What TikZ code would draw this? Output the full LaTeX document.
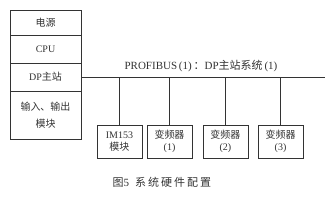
\documentclass[tikz,border=0pt]{standalone}
\usepackage{fontspec}
\setmainfont{Liberation Serif}
\newfontfamily\cjk{Noto Sans CJK SC}
\definecolor{inkgray}{HTML}{333333}
\tikzset{
  cell/.style={draw=inkgray,inner sep=0pt,minimum width=71pt,text=inkgray,font=\fontsize{10}{12}\selectfont},
  slave/.style={draw=inkgray,inner sep=0pt,minimum width=45pt,minimum height=33pt,align=center,text=inkgray,font=\fontsize{10}{12.5}\selectfont}
}
\begin{document}
\begin{tikzpicture}[x=1pt,y=-1pt,line width=0.8pt]
\useasboundingbox (0,0) rectangle (325,202);
% CPU rack
\node[cell,minimum height=25pt] (power) at (45.5,22.5) {\cjk 电源};
\node[cell,minimum height=28pt] (cpu) at (45.5,49) {CPU};
\node[cell,minimum height=28pt] (dp) at (45.5,77) {DP{\cjk 主站}};
\node[cell,minimum height=48pt,align=center] (io) at (45.5,115) {{\cjk 输入、输出}\\[5pt]{\cjk 模块}};
% bus
\coordinate (busend) at (325,77);
\draw[inkgray] (dp.east) -- (busend);
\node[text=inkgray,font=\fontsize{11}{13}\selectfont] (buslabel) at (201,66) {PROFIBUS\,(1)\,{\cjk ：}DP{\cjk 主站系统}\,(1)};
% slaves
\node[slave] (im) at (119.5,141.5) {IM153\\{\cjk 模块}};
\node[slave] (vf1) at (169.5,141.5) {{\cjk 变频器}\\(1)};
\node[slave] (vf2) at (225.5,141.5) {{\cjk 变频器}\\(2)};
\node[slave] (vf3) at (280.5,141.5) {{\cjk 变频器}\\(3)};
\foreach \s in {im,vf1,vf2,vf3}
  \draw[inkgray] (\s.north) -- (\s.north |- busend);
% caption
\node[text=inkgray,font=\fontsize{11}{13}\selectfont] (caption) at (162,182) {{\cjk 图}5\hspace{6pt}{\cjk 系\hspace{2pt}统\hspace{2pt}硬\hspace{2pt}件\hspace{2pt}配\hspace{2pt}置}};
\end{tikzpicture}
\end{document}
